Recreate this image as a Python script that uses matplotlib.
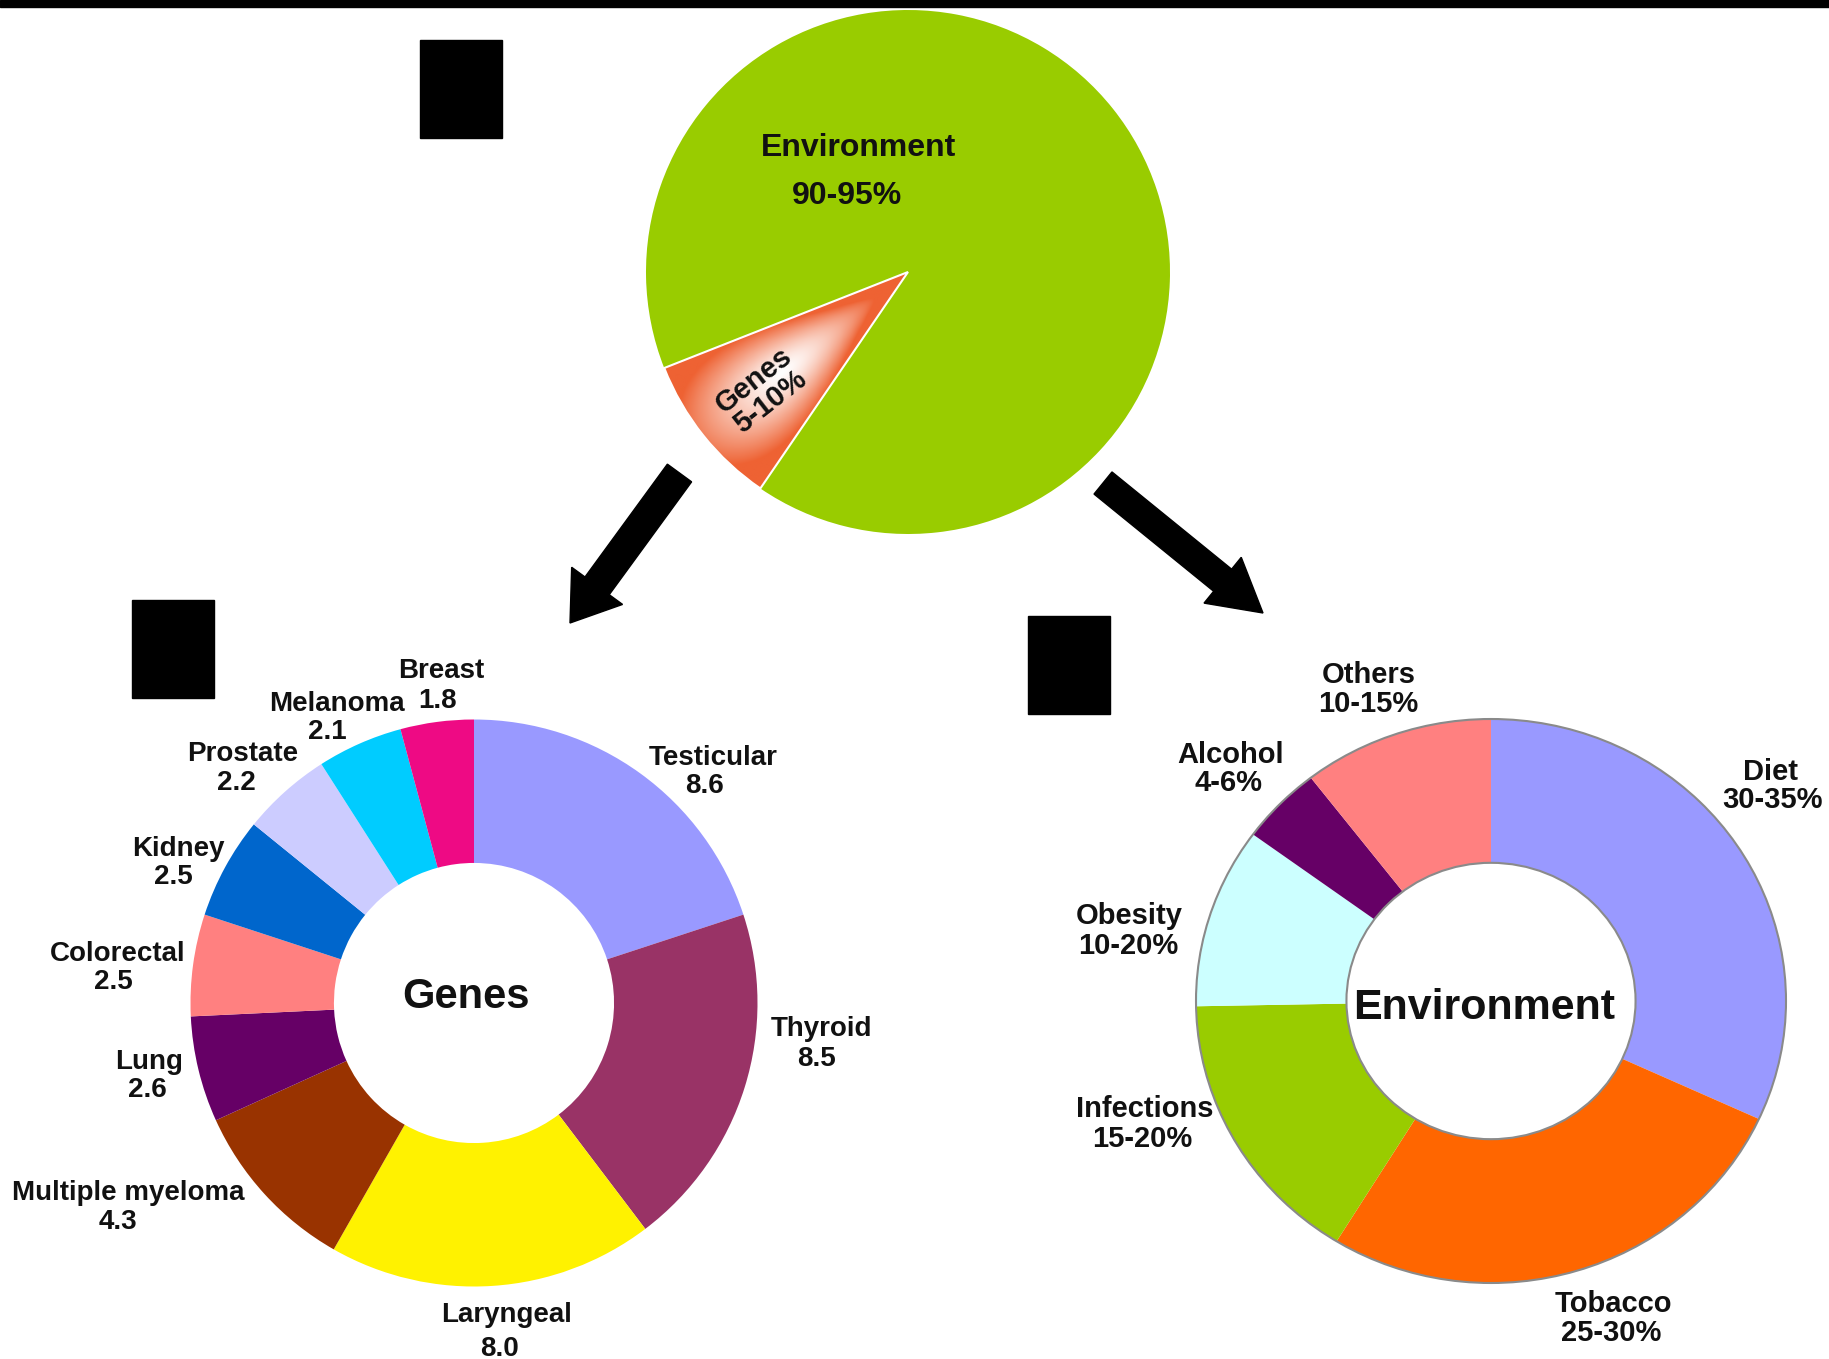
import numpy as np
import matplotlib.pyplot as plt
from matplotlib.patches import Rectangle, FancyArrow, Ellipse
from matplotlib.colors import to_rgb

plt.rcParams['font.family'] = ['Liberation Sans', 'DejaVu Sans']
plt.rcParams['font.weight'] = 'bold'

# top pie: genes vs environment
top_names = ['Genes', 'Environment']
top_ranges = ['5-10%', '90-95%']
top_shares = [9.5, 90.5]

# genes donut
gene_sites = ['Testicular', 'Thyroid', 'Laryngeal', 'Multiple myeloma', 'Lung',
              'Colorectal', 'Kidney', 'Prostate', 'Melanoma', 'Breast']
gene_values = [8.6, 8.5, 8.0, 4.3, 2.6, 2.5, 2.5, 2.2, 2.1, 1.8]
gene_colors = ['#9999FF', '#993366', '#FFF200', '#993300', '#660066',
               '#FF8080', '#0066CC', '#CCCCFF', '#00CCFF', '#EE0A84']

# environment donut
env_factors = ['Diet', 'Tobacco', 'Infections', 'Obesity', 'Alcohol', 'Others']
env_ranges = ['30-35%', '25-30%', '15-20%', '10-20%', '4-6%', '10-15%']
env_values = [32, 27, 16, 10.4, 4.5, 10.5]
env_colors = ['#9999FF', '#FF6600', '#99CC00', '#CCFFFF', '#660066', '#FF8080']

W, H = 1829, 1359
fig = plt.figure(figsize=(W / 100, H / 100), dpi=100)
fig.patch.set_facecolor('white')

PAD = 1.04
DY = 3  # small shift so text caps sit where the reference has them


def pie_ax(cx, cy, rx, ry):
    ax = fig.add_axes([(cx - rx * PAD) / W, 1 - (cy + ry * PAD) / H,
                       2 * rx * PAD / W, 2 * ry * PAD / H])
    return ax


def finish(ax):
    ax.set_xlim(-PAD, PAD)
    ax.set_ylim(-PAD, PAD)
    ax.set_aspect('auto')
    ax.axis('off')


# --- top pie
ax_top = pie_ax(908, 272, 262, 262)
start = 201.5
wedges, _ = ax_top.pie(top_shares, colors=['#EE6233', '#99CC00'], startangle=start,
                       counterclock=True, radius=1)
gw = wedges[0]
span = top_shares[0] / sum(top_shares) * 360
bis = start + span / 2
xs = np.linspace(-PAD, PAD, 500)
X, Y = np.meshgrid(xs, xs)
th = np.degrees(np.arctan2(Y, X)) % 360
d = ((th - bis + 180) % 360 - 180) / (span / 2)
rho = np.hypot(X, Y)
t = np.clip(np.sqrt(d ** 2 + ((rho - 0.62) / 0.45) ** 2), 0, 1) ** 1.4
c_edge = np.array(to_rgb('#EE6233'))
img = (1 - t)[..., None] * np.ones(3) + t[..., None] * c_edge
ax_top.imshow(img, extent=(-PAD, PAD, -PAD, PAD), origin='lower',
              clip_path=gw, zorder=1.5)
gw.set_facecolor('none')
gw.set_edgecolor('white')
gw.set_linewidth(1.5)
gw.set_zorder(2)
finish(ax_top)

# --- genes donut
ax_g = pie_ax(474, 1003, 283.5, 283.5)
ax_g.pie(gene_values, colors=gene_colors, startangle=90, counterclock=False,
         radius=1, wedgeprops=dict(width=0.506, edgecolor='none'))
finish(ax_g)

# --- environment donut
ax_e = pie_ax(1491, 1001, 295, 282)
ax_e.pie(env_values, colors=env_colors, startangle=90, counterclock=False,
         radius=1, wedgeprops=dict(width=0.51, edgecolor='none'))
ax_e.add_patch(Ellipse((0, 0), 2, 2, fill=False, edgecolor='#8a8a8a', lw=1.5))
ax_e.add_patch(Ellipse((0, 0), 0.98, 0.98, fill=False, edgecolor='#8a8a8a', lw=1.5))
finish(ax_e)

# --- overlay for text, arrows, boxes
ov = fig.add_axes([0, 0, 1, 1])
ov.set_xlim(0, W)
ov.set_ylim(H, 0)
ov.axis('off')
ov.patch.set_alpha(0)
ov.set_zorder(10)

ov.add_patch(Rectangle((0, 0), W, 7, color='black'))
for bx, by in [(420, 40), (132, 600), (1028, 616)]:
    ov.add_patch(Rectangle((bx, by), 82, 98, color='black'))

ov.add_patch(FancyArrow(679.5, 473, 570 - 679.5, 623 - 473, width=30,
                        head_width=63, head_length=46,
                        length_includes_head=True, color='black'))
ov.add_patch(FancyArrow(1103, 483, 1263 - 1103, 613 - 483, width=28.5,
                        head_width=59, head_length=52,
                        length_includes_head=True, color='black'))

tc = '#111111'
ov.text(858.5, 145 + DY, top_names[1], fontsize=23, ha='center', va='center', color=tc)
ov.text(847, 192.5 + DY, top_ranges[1], fontsize=23, ha='center', va='center', color=tc)
ov.text(762, 391, top_names[0] + '\n' + top_ranges[0], fontsize=21, ha='center',
        va='center', rotation=38, rotation_mode='anchor', linespacing=1.0, color=tc)

gene_pos = [(712.7, 754.7, 704.6, 782.7), (821.2, 1026.5, 816.5, 1055.7),
            (506.3, 1312.3, 499.3, 1346.1), (128.3, 1189.8, 117.8, 1219),
            (149.3, 1059.2, 147, 1087.2), (117.8, 950.7, 113.2, 978.7),
            (178.5, 845.7, 173.8, 873.7), (242.6, 751.2, 236.8, 780.4),
            (337.1, 701.1, 327.8, 728.9), (440.9, 668.4, 437.4, 697.6)]
for name, val, (x1, y1, x2, y2) in zip(gene_sites, gene_values, gene_pos):
    ov.text(x1, y1 + DY, name, fontsize=20, ha='center', va='center', color=tc)
    ov.text(x2, y2 + DY, f'{val:.1f}', fontsize=20, ha='center', va='center', color=tc)
ov.text(466, 994 + DY, 'Genes', fontsize=30, ha='center', va='center', color=tc)

env_pos = [(1770.7, 768.7, 1773, 796.7), (1613.3, 1300.6, 1610.9, 1329.8),
           (1144.3, 1105.8, 1142, 1136.1), (1129.2, 913.4, 1128, 942.5),
           (1230.7, 752.4, 1228.3, 780.4), (1368.3, 671.9, 1368.3, 701)]
for name, rng, (x1, y1, x2, y2) in zip(env_factors, env_ranges, env_pos):
    ov.text(x1, y1 + DY, name, fontsize=21, ha='center', va='center', color=tc)
    ov.text(x2, y2 + DY, rng, fontsize=21, ha='center', va='center', color=tc)
ov.text(1484, 1005 + DY, 'Environment', fontsize=31, ha='center', va='center', color=tc)

fig.savefig('out.png', dpi=100)
